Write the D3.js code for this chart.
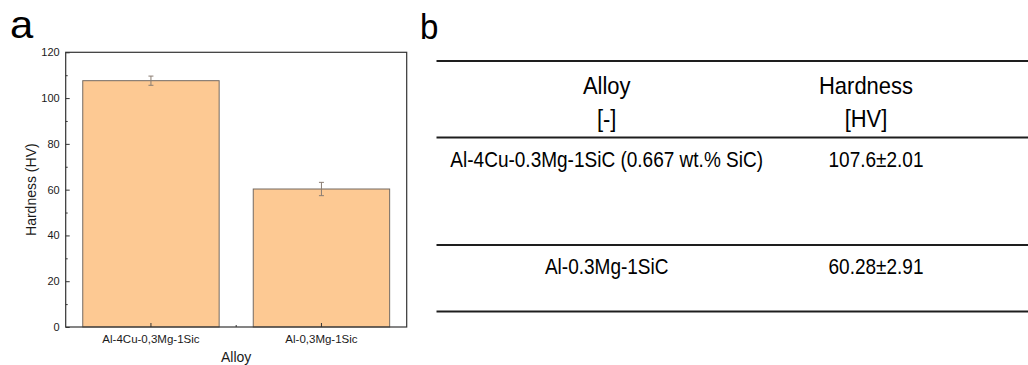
<!DOCTYPE html>
<html>
<head>
<meta charset="utf-8">
<script src="https://cdn.jsdelivr.net/npm/d3@7"></script>
<style>
  html, body { margin: 0; padding: 0; background: #fff; }
  svg { display: block; font-family: "Liberation Sans", Arial, sans-serif; }
</style>
</head>
<body>
<svg id="fig" width="1028" height="365"></svg>
<script>
// Bar chart data (panel a)
const categories = ["Al-4Cu-0,3Mg-1Sic", "Al-0,3Mg-1Sic"];
const hardness = [107.6, 60.28];
const hardnessErr = [2.01, 2.91];
const yTicks = [0, 20, 40, 60, 80, 100, 120];
const yMinorTicks = [10, 30, 50, 70, 90, 110];

// Table data (panel b)
const tableHeader = [["Alloy", "[-]"], ["Hardness", "[HV]"]];
const tableAlloys = ["Al-4Cu-0.3Mg-1SiC (0.667 wt.% SiC)", "Al-0.3Mg-1SiC"];
const tableHardness = ["107.6±2.01", "60.28±2.91"];

const svg = d3.select("#fig");
svg.append("rect").attr("width", 1028).attr("height", 365).attr("fill", "#fff");

// ---------- Panel a: bar chart ----------
const plot = { left: 65.7, right: 406.7, top: 52.3, bottom: 327 };

const x = d3.scaleBand()
  .domain(categories)
  .range([plot.left, plot.right])
  .paddingInner(0.2)
  .paddingOuter(0.1);

const y = d3.scaleLinear()
  .domain([0, 120])
  .range([plot.bottom, plot.top]);

svg.append("text")
  .attr("transform", "translate(10,38) scale(1.1,1)")
  .attr("font-size", 38).attr("fill", "#000").text("a");

const gA = svg.append("g");

// bars
gA.selectAll("rect.bar").data(categories).join("rect")
  .attr("class", "bar")
  .attr("x", d => x(d))
  .attr("width", x.bandwidth())
  .attr("y", (d, i) => y(hardness[i]))
  .attr("height", (d, i) => y(0) - y(hardness[i]))
  .attr("fill", "#fdc993")
  .attr("stroke", "#736a62")
  .attr("stroke-width", 1);

// error bars
const eb = gA.selectAll("g.err").data(categories).join("g").attr("class", "err")
  .attr("stroke", "#8a7d72").attr("stroke-width", 1).attr("fill", "none");
eb.append("line")
  .attr("x1", d => x(d) + x.bandwidth() / 2).attr("x2", d => x(d) + x.bandwidth() / 2)
  .attr("y1", (d, i) => y(hardness[i] + hardnessErr[i]))
  .attr("y2", (d, i) => y(hardness[i] - hardnessErr[i]));
eb.append("line")
  .attr("x1", d => x(d) + x.bandwidth() / 2 - 2.5).attr("x2", d => x(d) + x.bandwidth() / 2 + 2.5)
  .attr("y1", (d, i) => y(hardness[i] + hardnessErr[i]))
  .attr("y2", (d, i) => y(hardness[i] + hardnessErr[i]));
eb.append("line")
  .attr("x1", d => x(d) + x.bandwidth() / 2 - 2.5).attr("x2", d => x(d) + x.bandwidth() / 2 + 2.5)
  .attr("y1", (d, i) => y(hardness[i] - hardnessErr[i]))
  .attr("y2", (d, i) => y(hardness[i] - hardnessErr[i]));

// frame
gA.append("rect")
  .attr("x", plot.left).attr("y", plot.top)
  .attr("width", plot.right - plot.left).attr("height", plot.bottom - plot.top)
  .attr("fill", "none").attr("stroke", "#333").attr("stroke-width", 1.2);

// y axis
const yAxis = gA.append("g")
  .attr("transform", `translate(${plot.left},0)`)
  .call(d3.axisLeft(y).tickValues(yTicks).tickSize(-4).tickPadding(6));
yAxis.select(".domain").remove();
yAxis.selectAll("text").attr("font-size", 11).attr("fill", "#1a1a1a")
  .attr("font-family", "'Liberation Sans', Arial, sans-serif");
yAxis.selectAll("line").attr("stroke", "#333");

const yMinor = gA.append("g")
  .attr("transform", `translate(${plot.left},0)`)
  .call(d3.axisLeft(y).tickValues(yMinorTicks).tickSize(-2).tickFormat(""));
yMinor.select(".domain").remove();
yMinor.selectAll("line").attr("stroke", "#333");

// x axis
const xAxis = gA.append("g")
  .attr("transform", `translate(0,${plot.bottom})`)
  .call(d3.axisBottom(x).tickSize(-4).tickPadding(8));
xAxis.select(".domain").remove();
xAxis.selectAll("text").attr("font-size", 11.5).attr("fill", "#1a1a1a")
  .attr("font-family", "'Liberation Sans', Arial, sans-serif");
xAxis.selectAll("line").attr("stroke", "#333");

// minor tick between the two categories
const mid = (x(categories[0]) + x(categories[1]) + x.bandwidth()) / 2;
gA.append("line")
  .attr("x1", mid).attr("x2", mid)
  .attr("y1", plot.bottom).attr("y2", plot.bottom - 2)
  .attr("stroke", "#333");

// axis titles
gA.append("text")
  .attr("transform", `translate(36,${(plot.top + plot.bottom) / 2}) rotate(-90)`)
  .attr("text-anchor", "middle").attr("font-size", 14).attr("fill", "#1a1a1a")
  .text("Hardness (HV)");
gA.append("text")
  .attr("x", (plot.left + plot.right) / 2).attr("y", 361.5)
  .attr("text-anchor", "middle").attr("font-size", 14).attr("fill", "#1a1a1a")
  .text("Alloy");

// ---------- Panel b: table ----------
svg.append("text")
  .attr("transform", "translate(420,39) scale(0.92,1)")
  .attr("font-size", 36).attr("fill", "#000").text("b");

const gB = svg.append("g");
const ruleY = [61, 137.5, 245, 311.5];
gB.selectAll("line.rule").data(ruleY).join("line")
  .attr("class", "rule")
  .attr("x1", 436.5).attr("x2", 1028)
  .attr("y1", d => d).attr("y2", d => d)
  .attr("stroke", "#1e1e1e").attr("stroke-width", 2);

function cellText(g, cx, cy, txt, size, sx) {
  g.append("text")
    .attr("transform", `translate(${cx},${cy}) scale(${sx},1)`)
    .attr("text-anchor", "middle")
    .attr("font-size", size).attr("fill", "#000")
    .text(txt);
}

const colX = [606.7, 866];
const valX = 876;
tableHeader.forEach((lines, c) => {
  cellText(gB, colX[c], 93.5, lines[0], 24, 0.915);
  cellText(gB, colX[c], 126.5, lines[1], 24, 0.915);
});

const rowBase = [166.5, 273.5];
tableAlloys.forEach((t, r) => {
  cellText(gB, colX[0], rowBase[r], t, 22, 0.865);
  cellText(gB, valX, rowBase[r], tableHardness[r], 22, 0.865);
});
</script>
</body>
</html>
